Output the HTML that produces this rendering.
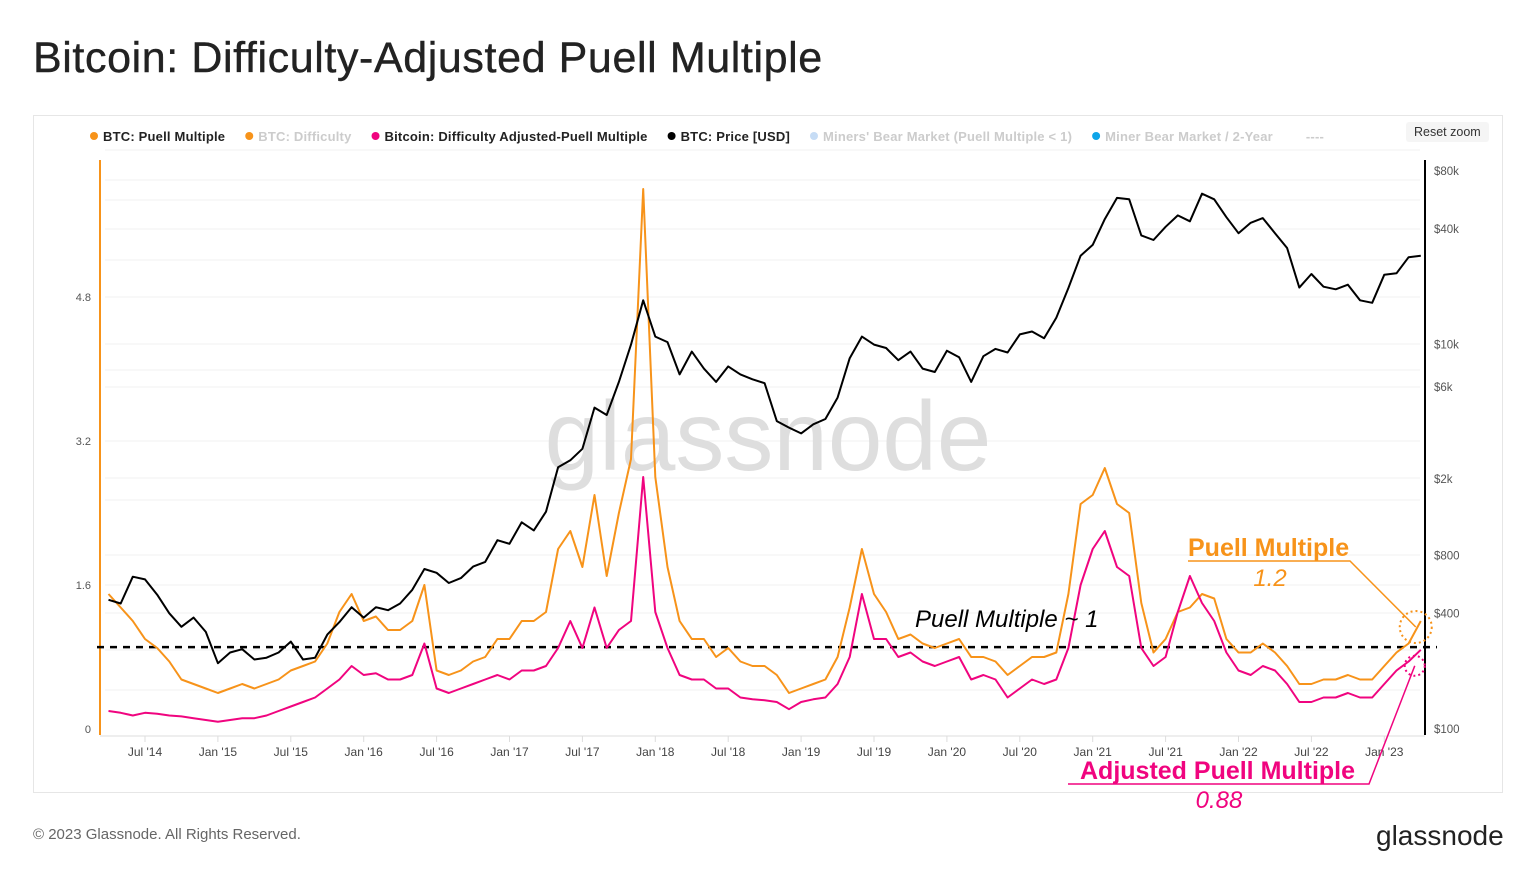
<!DOCTYPE html>
<html><head><meta charset="utf-8"><style>
body{margin:0;width:1536px;height:885px;background:#fff;font-family:"Liberation Sans",sans-serif;overflow:hidden;position:relative}
.t{position:absolute;white-space:nowrap}
</style></head><body>
<div class="t" style="left:33px;top:34px;font-size:43px;letter-spacing:0.6px;color:#222;-webkit-text-stroke:0.4px #222">Bitcoin: Difficulty-Adjusted Puell Multiple</div>
<div style="position:absolute;left:33px;top:115px;width:1468px;height:676px;border:1px solid #e6e6e6"></div>
<div class="t" style="left:1406px;top:122px;padding:3px 8px;background:#f5f5f5;border-radius:3px;font-size:12.5px;color:#333">Reset zoom</div>
<div class="t" style="left:33px;top:826px;font-size:15px;color:#666">© 2023 Glassnode. All Rights Reserved.</div>
<div class="t" style="left:1376px;top:820px;font-size:28px;color:#222">glassnode</div>
<svg id="c" width="1536" height="885" style="position:absolute;left:0;top:0" xmlns="http://www.w3.org/2000/svg"></svg>
<script>
const months=[];for(let m=-3;m<=105;m++)months.push(m);
const price=[470,450,620,600,500,400,340,380,320,
220,250,260,230,235,250,285,230,235,310,360,430,
380,430,415,450,530,680,650,575,610,700,740,960,
920,1190,1080,1350,2300,2500,2870,4700,4300,6400,10000,17000,
11000,10300,7000,9200,7500,6400,7700,7000,6600,6300,4000,3700,
3450,3850,4100,5300,8500,11000,10000,9600,8300,9200,7500,7200,
9300,8600,6400,8700,9500,9100,11300,11700,10800,13800,19700,29000,
33000,45000,58000,57000,37000,35000,41000,47000,43800,61000,57000,46000,
38000,43000,45500,38000,31800,19800,23300,20000,19400,20500,17000,16500,
23100,23500,28500,29000];
const puell=[1.5,1.35,1.2,1.0,0.9,0.75,0.55,0.5,0.45,
0.4,0.45,0.5,0.45,0.5,0.55,0.65,0.7,0.75,0.95,1.3,1.5,
1.2,1.25,1.1,1.1,1.2,1.6,0.65,0.6,0.65,0.75,0.8,1.0,
1.0,1.2,1.2,1.3,2.0,2.2,1.8,2.6,1.7,2.4,3.0,6.0,
2.8,1.8,1.2,1.0,1.0,0.8,0.9,0.75,0.7,0.7,0.6,0.4,
0.45,0.5,0.55,0.8,1.35,2.0,1.5,1.3,1.0,1.05,0.95,0.9,
0.95,1.0,0.8,0.8,0.75,0.6,0.7,0.8,0.8,0.85,1.5,2.5,
2.6,2.9,2.5,2.4,1.4,0.85,1.0,1.3,1.35,1.5,1.45,1.0,
0.85,0.85,0.95,0.85,0.7,0.5,0.5,0.55,0.55,0.6,0.55,0.55,
0.7,0.85,0.95,1.2];
const adjusted=[0.2,0.18,0.15,0.18,0.17,0.15,0.14,0.12,0.1,
0.08,0.1,0.12,0.12,0.15,0.2,0.25,0.3,0.35,0.45,0.55,0.7,
0.6,0.62,0.55,0.55,0.6,0.95,0.45,0.4,0.45,0.5,0.55,0.6,
0.55,0.65,0.65,0.7,0.9,1.2,0.9,1.35,0.9,1.1,1.2,2.8,
1.3,0.9,0.6,0.55,0.55,0.45,0.45,0.35,0.33,0.32,0.3,0.22,
0.3,0.33,0.35,0.5,0.8,1.5,1.0,1.0,0.8,0.85,0.75,0.7,
0.75,0.8,0.55,0.6,0.55,0.35,0.45,0.55,0.5,0.55,0.9,1.6,
2.0,2.2,1.8,1.7,0.9,0.7,0.8,1.3,1.7,1.4,1.2,0.85,
0.65,0.6,0.7,0.65,0.5,0.3,0.3,0.35,0.35,0.4,0.35,0.35,
0.5,0.65,0.75,0.88];
const xLabels=["Jul '14","Jan '15","Jul '15","Jan '16","Jul '16","Jan '17","Jul '17","Jan '18","Jul '18","Jan '19","Jul '19","Jan '20","Jul '20","Jan '21","Jul '21","Jan '22","Jul '22","Jan '23"];
const leftTicks=[0,1.6,3.2,4.8];
const rightTicks=[100,400,800,2000,6000,10000,40000,80000];
const rightLabels=["$100","$400","$800","$2k","$6k","$10k","$40k","$80k"];
const legend=[["BTC: Puell Multiple","#f7931a","#222"],["BTC: Difficulty","#f7931a","#ccc"],["Bitcoin: Difficulty Adjusted-Puell Multiple","#f0047f","#222"],["BTC: Price [USD]","#000","#222"],["Miners' Bear Market (Puell Multiple < 1)","#c6dcf5","#ccc"],["Miner Bear Market / 2-Year","#0ea5e9","#ccc"],["----","#fff","#ccc"]];

const X=m=>145+m*12.15;
const YL=v=>729-v*90;
const YR=p=>729-(Math.log10(p)-2)*192.2;
const svg=document.getElementById('c');const NS="http://www.w3.org/2000/svg";
function el(t,a,txt){const e=document.createElementNS(NS,t);for(const k in a)e.setAttribute(k,a[k]);if(txt!==undefined)e.textContent=txt;svg.appendChild(e);return e;}
[150,180,200,229,260,297,344,370,387,441,478,500,555,585,613,650,690].forEach(y=>{const g=el('line',{x1:105,x2:1420,y1:y,y2:y,stroke:'#f0f0f0','stroke-width':1});});
const w=el('text',{x:768,y:470,'font-size':98,fill:'#dedede','text-anchor':'middle','font-family':'Liberation Sans'},'glassnode');

let a=el('line',{x1:100,x2:100,y1:160,y2:735,stroke:'#f7931a','stroke-width':2});
a=el('line',{x1:1425,x2:1425,y1:160,y2:735,stroke:'#000','stroke-width':2});
a=el('line',{x1:100,x2:1425,y1:736,y2:736,stroke:'#ddd','stroke-width':1});
leftTicks.forEach(v=>{const t=el('text',{x:91,y:YL(v)+4,'font-size':11,fill:'#555','text-anchor':'end'},String(v));});
rightTicks.forEach((p,i)=>{const t=el('text',{x:1434,y:YR(p)+4,'font-size':11.5,fill:'#555'},rightLabels[i]);});
xLabels.forEach((l,i)=>{const x=X(i*6);const tk=el('line',{x1:x,x2:x,y1:736,y2:742,stroke:'#ddd'});const t=el('text',{x:x,y:756,'font-size':12,fill:'#444','text-anchor':'middle'},l);});
let lx=90;legend.forEach(([n,c,tc])=>{const d=el('circle',{cx:lx+4,cy:136,r:4,fill:c});const t=el('text',{x:lx+13,y:141,'font-size':13,fill:tc,'font-weight':'bold','letter-spacing':'0.2'},n);lx+=t.getComputedTextLength()+33;});
a=el('line',{x1:97,x2:1437,y1:YL(0.91),y2:YL(0.91),stroke:'#000','stroke-width':2.5,'stroke-dasharray':'7,6'});
function path(vals,fy,col,name){const d=vals.map((v,i)=>(i?'L':'M')+X(months[i]).toFixed(1)+','+fy(v).toFixed(1)).join('');const p=el('path',{d:d,fill:'none',stroke:col,'stroke-width':2,'stroke-linejoin':'round'});}
path(puell,YL,'#f7931a','puell-multiple-line');
path(adjusted,YL,'#f0047f','adjusted-puell-line');
path(price,YR,'#000','btc-price-line');
const lp=X(105),yp=YL(1.2),ya=YL(0.88);
a=el('circle',{cx:lp-5,cy:yp+6,r:16,fill:'none',stroke:'#f7931a','stroke-width':2,'stroke-dasharray':'2,3'});
a=el('circle',{cx:lp-6,cy:ya+16,r:10,fill:'none',stroke:'#f0047f','stroke-width':2,'stroke-dasharray':'2,3'});
a=el('polyline',{points:`1188,561 1350,561 ${lp-5},${yp+6}`,fill:'none',stroke:'#f7931a','stroke-width':1.5});
a=el('polyline',{points:`1068,784 1369,784 ${lp-6},${ya+16}`,fill:'none',stroke:'#f0047f','stroke-width':1.5});
a=el('text',{x:1188,y:556,'font-size':25,'font-weight':'bold',fill:'#f7931a'},'Puell Multiple');
a=el('text',{x:1270,y:586,'font-size':24,'font-style':'italic',fill:'#f7931a','text-anchor':'middle'},'1.2');
a=el('text',{x:1080,y:779,'font-size':25,'font-weight':'bold',fill:'#f0047f'},'Adjusted Puell Multiple');
a=el('text',{x:1219,y:808,'font-size':24,'font-style':'italic',fill:'#f0047f','text-anchor':'middle'},'0.88');
a=el('text',{x:915,y:627,'font-size':24,'font-style':'italic',fill:'#000'},'Puell Multiple ~ 1');
</script>
</body></html>
